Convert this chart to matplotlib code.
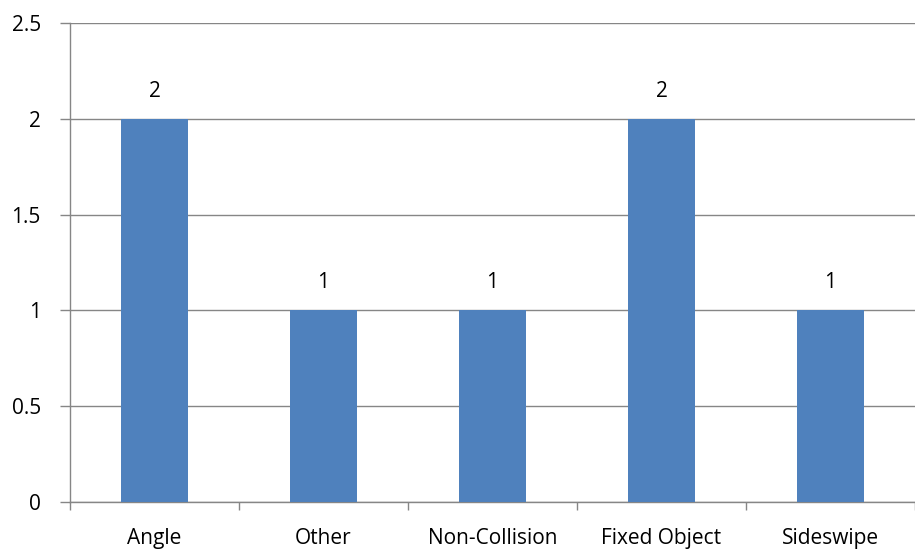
import numpy as np
import matplotlib.pyplot as plt

plt.rcParams['font.family'] = ['Open Sans', 'DejaVu Sans']

categories = ['Angle', 'Other', 'Non-Collision', 'Fixed Object', 'Sideswipe']
counts = [2, 1, 1, 2, 1]
yticks = [0, 0.5, 1, 1.5, 2, 2.5]
ytick_labels = ['0', '0.5', '1', '1.5', '2', '2.5']

fig = plt.figure(figsize=(9.15, 5.5), dpi=100)
ax = fig.add_axes([70 / 915, 48 / 550, 845 / 915, 479 / 550])

x = np.arange(len(categories))
bars = ax.bar(x, counts, width=0.4, color='#4F81BD', zorder=3)

for xi, v in zip(x, counts):
    ax.text(xi, v + 0.09, str(v), ha='center', va='bottom', fontsize=15)

ax.set_xlim(-0.5, len(categories) - 0.5)
ax.set_ylim(0, 2.5)
ax.set_yticks(yticks)
ax.set_yticklabels(ytick_labels, fontsize=15)
ax.set_xticks(x)
ax.set_xticklabels(categories, fontsize=15)
ax.set_xticks(np.arange(-0.5, len(categories)), minor=True)
ax.tick_params(axis='x', which='major', length=0, pad=19)
ax.tick_params(axis='x', which='minor', length=6, color='#868686', width=1)
ax.tick_params(axis='y', length=7, color='#868686', width=1, pad=14)

ax.yaxis.grid(True, color='#868686', linewidth=1, zorder=0)
for s in ['top', 'right']:
    ax.spines[s].set_visible(False)
for s in ['left', 'bottom']:
    ax.spines[s].set_color('#868686')
    ax.spines[s].set_linewidth(1)

fig.savefig('out.png', dpi=100)
